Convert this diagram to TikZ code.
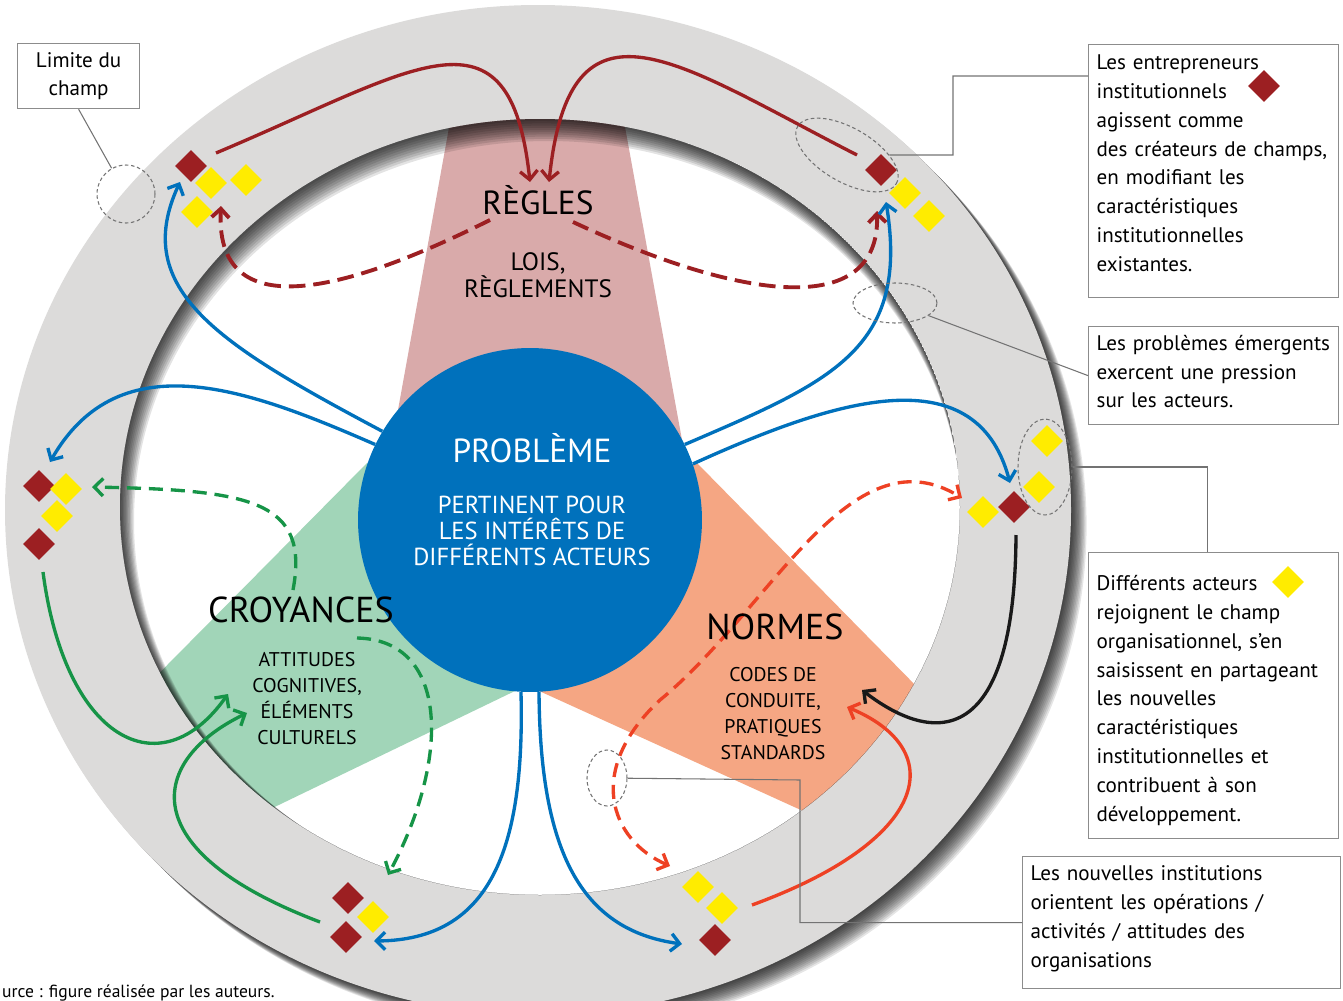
\documentclass[tikz,border=0pt]{standalone}
\usepackage{fontspec}
\setmainfont{PT Sans}
\usetikzlibrary{arrows.meta,shapes.geometric}

\definecolor{fieldgray}{HTML}{DCDBDA}
\definecolor{probblue}{HTML}{0071BC}
\definecolor{rulepink}{HTML}{D9AAAA}
\definecolor{beliefgreen}{HTML}{A1D5B8}
\definecolor{normorange}{HTML}{F5A683}
\definecolor{entred}{HTML}{9C1F22}
\definecolor{actoryellow}{HTML}{FFEC00}
\definecolor{flowgreen}{HTML}{169447}
\definecolor{floworange}{HTML}{EE4124}

\newcommand{\pillarfont}{\fontsize{19}{21}\selectfont}
\newcommand{\subfont}{\fontsize{11.3}{14.8}\selectfont}
\newcommand{\loisfont}{\fontsize{14.3}{15.2}\selectfont}
\newcommand{\notefont}{\fontsize{12}{16.4}\selectfont}

\begin{document}
\begin{tikzpicture}[x=0.02cm, y=-0.02cm,
    >={Straight Barb[length=5pt,width=10pt]},
    reddiamond/.style={diamond, fill=entred, inner sep=0pt, minimum size=0.64cm},
    yellowdiamond/.style={diamond, fill=actoryellow, inner sep=0pt, minimum size=0.64cm},
    flow/.style={line width=1.9pt, ->},
    dashedflow/.style={line width=1.9pt, ->, dash pattern=on 8pt off 4.5pt},
    notebox/.style={draw=black!45, line width=0.7pt, fill=white, inner sep=0pt, anchor=north west},
    notetext/.style={align=left, inner sep=0pt, font=\notefont},
    lead/.style={draw=black!55, line width=0.6pt},
    zone/.style={ellipse, draw=black!55, line width=0.6pt, dash pattern=on 2pt off 1.5pt, inner sep=0pt}]
  \useasboundingbox (0,0) rectangle (1343,1001);

  % the organisational field and its shadow
  \foreach \k in {1,...,12}
    \fill[black, opacity=0.1] ({538+1.3*\k}, {510+1.3*\k}) ellipse (533 and 505);
  \fill[fieldgray] (538,510) ellipse (533 and 505);
  \fill[white] (540,507) ellipse (420 and 388);

  \begin{scope}
    \clip (540,507) ellipse (420 and 388);
    \fill[rulepink] (530,520) -- (398,410) -- (463,50) -- (611,50) -- (682,440) -- cycle;
    \fill[beliefgreen] (530,520) -- (367,463) -- (100,733) -- (200,843) -- (517,690) -- cycle;
    \fill[normorange] (530,520) -- (697,463) -- (980,751) -- (880,846) -- (537,690) -- cycle;
    \foreach \k in {1,...,10}
      \fill[black, opacity=0.11, even odd rule] (540,507) ellipse (420 and 388)
        ({540+0.8*\k}, {507+1.4*\k}) ellipse ({420-0.6*\k} and {388-0.8*\k});
  \end{scope}

  \node[circle, fill=probblue, minimum size=6.88cm, inner sep=0pt] (probleme) at (530,520) {};

  % free ends of the flows
  \coordinate (rulesL) at (530,182);
  \coordinate (rulesR) at (549,182);
  \coordinate (rulesLo) at (490,220);
  \coordinate (rulesRo) at (573,222);
  \coordinate (beliefUp) at (293,590);
  \coordinate (beliefDown) at (357,638);
  \coordinate (beliefIn) at (228,694);
  \coordinate (beliefIn2) at (247,713);
  \coordinate (normIn) at (847,707);
  \coordinate (normIn2) at (862,690);
  \coordinate (normMid) at (660,700);
  \coordinate (nwOut) at (216,153);
  \coordinate (nwIn) at (221,206);
  \coordinate (nwBlue) at (180,182);
  \coordinate (neOut) at (857,155);
  \coordinate (neIn) at (877,211);
  \coordinate (neBlue) at (886,202);
  \coordinate (wBlue) at (50,462);
  \coordinate (wIn) at (92,487);
  \coordinate (wOut) at (43,572);
  \coordinate (eBlue) at (1010,483);
  \coordinate (eIn) at (962,498);
  \coordinate (eOut) at (1016,535);
  \coordinate (swIn) at (388,875);
  \coordinate (swBlue) at (374,941);
  \coordinate (swOut) at (320,922);
  \coordinate (seBlue) at (682,944);
  \coordinate (seIn) at (670,866);
  \coordinate (seOut) at (752,905);

  % flows
  \draw[flow, entred] (nwOut) .. controls (416,69) and (510,-5) .. (rulesL);
  \draw[flow, entred] (neOut) .. controls (677,63) and (570,-20) .. (rulesR);
  \draw[dashedflow, entred, line width=2.2pt, dash pattern=on 9.5pt off 4.5pt]
    (rulesLo) .. controls (330,300) and (215,320) .. (nwIn);
  \draw[dashedflow, entred, line width=2.2pt, dash pattern=on 9.5pt off 4.5pt]
    (rulesRo) .. controls (740,300) and (880,320) .. (neIn);

  \draw[flow, probblue] (probleme.149) .. controls (220,345) and (130,290) .. (nwBlue);
  \draw[flow, probblue] (probleme.154) .. controls (250,390) and (120,340) .. (wBlue);
  \draw[flow, probblue] (probleme.26) .. controls (830,382) and (910,350) .. (neBlue);
  \draw[flow, probblue] (probleme.19) .. controls (823,405) and (975,350) .. (eBlue);
  \draw[flow, probblue] (probleme.267) .. controls (525,850) and (490,940) .. (swBlue);
  \draw[flow, probblue] (probleme.273) .. controls (540,850) and (580,930) .. (seBlue);

  \draw[dashedflow, flowgreen] (beliefUp) .. controls (310,500) and (250,490) .. (wIn);
  \draw[dashedflow, flowgreen] (beliefDown) .. controls (450,640) and (450,760) .. (swIn);
  \draw[flow, flowgreen] (wOut) .. controls (65,740) and (160,790) .. (beliefIn);
  \draw[flow, flowgreen] (swOut) .. controls (130,850) and (150,760) .. (beliefIn2);

  \draw[dashedflow, floworange, <->] (seIn) .. controls (610,840) and (585,770) .. (normMid)
    .. controls (770,610) and (850,430) .. (eIn);
  \draw[flow, floworange] (seOut) .. controls (930,840) and (950,750) .. (normIn);
  \draw[flow, black!90] (eOut) .. controls (1015,740) and (940,750) .. (normIn2);

  % pillars
  \node[font=\pillarfont] (regles) at (538,200) {RÈGLES};
  \node[font=\loisfont, align=center] (lois) at (538,275) {LOIS,\\RÈGLEMENTS};
  \node[font=\pillarfont, text=white] (probtitle) at (532,448) {PROBLÈME};
  \node[text=white, align=center, font=\fontsize{14}{15}\selectfont] (probtext) at (532,531)
    {PERTINENT POUR\\LES INTÉRÊTS DE\\DIFFÉRENTS ACTEURS};
  \node[font=\fontsize{20.5}{22}\selectfont] (croyances) at (301,610) {CROYANCES};
  \node[font=\subfont, align=center] (croytext) at (307,699)
    {ATTITUDES\\COGNITIVES,\\ÉLÉMENTS\\CULTURELS};
  \node[font=\fontsize{20.5}{22}\selectfont] (normes) at (775,627) {NORMES};
  \node[font=\subfont, align=center] (normtext) at (773,714)
    {CODES DE\\CONDUITE,\\PRATIQUES\\STANDARDS};

  % entrepreneurs and actors
  \node[reddiamond] (nwR) at (191,166) {};
  \node[yellowdiamond] (nwY1) at (211,183) {};
  \node[yellowdiamond] (nwY2) at (246,180) {};
  \node[yellowdiamond] (nwY3) at (197,212) {};
  \node[reddiamond] (neR) at (881,170) {};
  \node[yellowdiamond] (neY1) at (905,193) {};
  \node[yellowdiamond] (neY2) at (929,216) {};
  \node[yellowdiamond] (eY1) at (1047,441) {};
  \node[yellowdiamond] (eY2) at (1039,487) {};
  \node[reddiamond] (eR) at (1014,507) {};
  \node[yellowdiamond] (eY3) at (983,512) {};
  \node[reddiamond] (wR1) at (39,486) {};
  \node[yellowdiamond] (wY1) at (66,489) {};
  \node[yellowdiamond] (wY2) at (57,516) {};
  \node[reddiamond] (wR2) at (39,544) {};
  \node[reddiamond] (swR1) at (348,898) {};
  \node[yellowdiamond] (swY) at (373,917) {};
  \node[reddiamond] (swR2) at (346,937) {};
  \node[yellowdiamond] (seY1) at (698,887) {};
  \node[yellowdiamond] (seY2) at (722,908) {};
  \node[reddiamond] (seR) at (715,940) {};

  % marked zones
  \node[zone, minimum width=1.16cm, minimum height=1.16cm] (zoneLim) at (126,194) {};
  \node[zone, minimum width=2.28cm, minimum height=1.08cm, rotate=-30] (zoneEnt) at (847,155) {};
  \node[zone, minimum width=1.68cm, minimum height=0.8cm] (zoneProb) at (895,303) {};
  \node[zone, minimum width=1.08cm, minimum height=1.92cm] (zoneDif) at (1045,467) {};
  \node[zone, minimum width=0.8cm, minimum height=1.12cm] (zoneNouv) at (607,778) {};

  % notes
  \node[notebox, minimum width=2.44cm, minimum height=1.3cm] (limbox) at (17,43) {};
  \node[notetext, align=center] (limtext) at (limbox.center) {Limite du\\champ};
  \node[notebox, minimum width=5cm, minimum height=5.06cm] (entbox) at (1088,44) {};
  \node[notetext, text width=4.68cm, yshift=4.5pt] (enttext) at (entbox.center)
    {Les entrepreneurs\\institutionnels\\agissent comme\\des créateurs de champs,\\en modifiant les\\caractéristiques\\institutionnelles\\existantes.};
  \node[notebox, minimum width=5cm, minimum height=1.96cm] (probbox) at (1088,326) {};
  \node[notetext, text width=4.68cm, yshift=2.3pt] (probtext2) at (probbox.center)
    {Les problèmes émergents\\exercent une pression\\sur les acteurs.};
  \node[notebox, minimum width=5cm, minimum height=5.72cm] (difbox) at (1088,552) {};
  \node[notetext, text width=4.68cm, yshift=-2.8pt] (diftext) at (difbox.center)
    {Différents acteurs\\rejoignent le champ\\organisationnel, s’en\\saisissent en partageant\\les nouvelles\\caractéristiques\\institutionnelles et\\contribuent à son\\développement.};
  \node[notebox, minimum width=6.36cm, minimum height=2.64cm] (nouvbox) at (1022,856) {};
  \node[notetext, text width=6.04cm, yshift=2.3pt] (nouvtext) at (nouvbox.center)
    {Les nouvelles institutions\\orientent les opérations /\\activités / attitudes des\\organisations};
  \node[reddiamond] (entkey) at (1264,86) {};
  \node[yellowdiamond] (actkey) at (1288,582) {};

  \draw[lead] (limbox.south) -- (zoneLim);
  \draw[lead] (entbox.north west) ++(0,32) -| (953,155) -- (zoneEnt);
  \draw[lead] (probbox.west) -- (zoneProb);
  \draw[lead] (difbox.north) ++(-6,0) |- (zoneDif);
  \draw[lead] (nouvbox.west) -| (800,780) -- (zoneNouv);

  \node[anchor=west, font=\fontsize{10}{12}\selectfont] (source) at (-4,993)
    {urce : figure réalisée par les auteurs.};
\end{tikzpicture}
\end{document}
